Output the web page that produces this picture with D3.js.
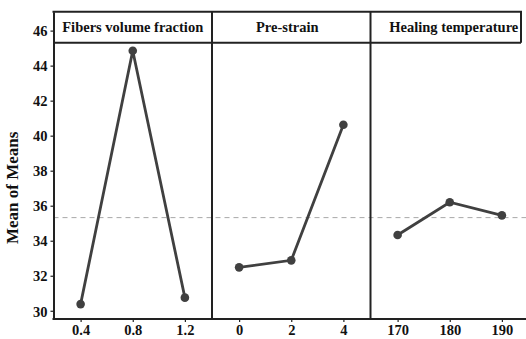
<!DOCTYPE html>
<html>
<head>
<meta charset="utf-8">
<script src="https://cdn.jsdelivr.net/npm/d3@7"></script>
<style>
  html, body { margin: 0; padding: 0; background: #fff; }
  svg { display: block; font-family: "Liberation Serif", "Times New Roman", serif; }
  .axis text { font-family: "Liberation Serif", "Times New Roman", serif; font-weight: bold; font-size: 14.5px; fill: #111; }
  .axis line, .axis path { stroke: #222; }
</style>
</head>
<body>
<div id="chart"></div>
<script>
// Main effects data (means of means)
const factors = ["Fibers volume fraction", "Pre-strain", "Healing temperature"];
const fiberLevels = ["0.4", "0.8", "1.2"];
const fiberMeans = [30.38, 44.85, 30.75];
const strainLevels = ["0", "2", "4"];
const strainMeans = [32.48, 32.88, 40.62];
const tempLevels = ["170", "180", "190"];
const tempMeans = [34.33, 36.2, 35.45];
const grandMean = 35.32;
const yTicks = [30, 32, 34, 36, 38, 40, 42, 44, 46];

const width = 526, height = 339;
const margin = { left: 53.5, top: 11.7, bottom: 20 };
const panelW = 158.5;
const headerH = 31;
const axisY = height - margin.bottom;
const rightEdge = 521;

const panels = [
  { name: factors[0], levels: fiberLevels, means: fiberMeans },
  { name: factors[1], levels: strainLevels, means: strainMeans },
  { name: factors[2], levels: tempLevels, means: tempMeans }
];

const svg = d3.select("#chart")
  .append("svg")
    .attr("width", width)
    .attr("height", height);

// y scale
const yScale = d3.scaleLinear()
  .domain([29.53, 47.08])
  .range([axisY, margin.top]);

// dashed grand mean line
svg.append("line")
  .attr("x1", margin.left)
  .attr("x2", width)
  .attr("y1", yScale(grandMean))
  .attr("y2", yScale(grandMean))
  .attr("stroke", "#a8a8a8")
  .attr("stroke-width", 1)
  .attr("stroke-dasharray", "5,4");

// left axis
svg.append("g")
  .attr("class", "axis y-axis")
  .attr("transform", `translate(${margin.left}, 0)`)
  .call(d3.axisLeft(yScale).tickValues(yTicks).tickSize(3).tickSizeOuter(0).tickPadding(3))
  .call(g => g.select(".domain").attr("stroke-width", 2))
  .call(g => g.selectAll(".tick line").attr("stroke-width", 1.2))
  .call(g => g.selectAll(".tick text").attr("dy", "0.36em"));

// y axis label
svg.append("text")
  .text("Mean of Means")
  .attr("transform", `translate(18, ${(margin.top + 43 + axisY) / 2 + 1}) rotate(-90)`)
  .attr("text-anchor", "middle")
  .attr("font-weight", "bold")
  .attr("font-size", "17px")
  .attr("fill", "#111");

// bottom axis line
svg.append("line")
  .attr("x1", margin.left - 1)
  .attr("x2", width)
  .attr("y1", axisY)
  .attr("y2", axisY)
  .attr("stroke", "#222")
  .attr("stroke-width", 2);

// header strip
svg.append("line")
  .attr("x1", margin.left - 1).attr("x2", rightEdge + 1)
  .attr("y1", margin.top).attr("y2", margin.top)
  .attr("stroke", "#222").attr("stroke-width", 2);
svg.append("line")
  .attr("x1", margin.left).attr("x2", rightEdge)
  .attr("y1", margin.top + headerH).attr("y2", margin.top + headerH)
  .attr("stroke", "#222").attr("stroke-width", 2);
svg.append("line")
  .attr("x1", rightEdge).attr("x2", rightEdge)
  .attr("y1", margin.top).attr("y2", margin.top + headerH)
  .attr("stroke", "#222").attr("stroke-width", 2);

const line = d3.line();

panels.forEach((p, i) => {
  const x0 = margin.left + i * panelW;
  const xScale = d3.scalePoint()
    .domain(p.levels)
    .range([x0, x0 + panelW])
    .padding(0.52);

  // divider
  if (i > 0) {
    svg.append("line")
      .attr("x1", x0).attr("x2", x0)
      .attr("y1", margin.top).attr("y2", axisY)
      .attr("stroke", "#222").attr("stroke-width", 2);
  }

  // header title
  const hx = i === 2 ? (x0 + rightEdge) / 2 + 8 : x0 + panelW / 2 - (i === 1 ? 4 : 0);
  svg.append("text")
    .text(p.name)
    .attr("x", hx)
    .attr("y", margin.top + headerH / 2 + 1)
    .attr("text-anchor", "middle")
    .attr("dominant-baseline", "middle")
    .attr("font-weight", "bold")
    .attr("font-size", "14.5px")
    .attr("fill", "#111");

  // bottom ticks
  svg.append("g")
    .attr("class", "axis x-axis")
    .attr("transform", `translate(0, ${axisY})`)
    .call(d3.axisBottom(xScale).tickSize(3).tickSizeOuter(0).tickPadding(3))
    .call(g => g.select(".domain").remove())
    .call(g => g.selectAll(".tick line").attr("stroke-width", 1.2));

  // main effect line
  const pts = p.levels.map((l, j) => [xScale(l), yScale(p.means[j])]);
  svg.append("path")
    .attr("d", line(pts))
    .attr("fill", "none")
    .attr("stroke", "#404040")
    .attr("stroke-width", 2.8);

  svg.selectAll(`.pt${i}`)
    .data(pts)
    .join("circle")
      .attr("class", `pt${i}`)
      .attr("cx", d => d[0])
      .attr("cy", d => d[1])
      .attr("r", 4.3)
      .attr("fill", "#404040");
});
</script>
</body>
</html>
